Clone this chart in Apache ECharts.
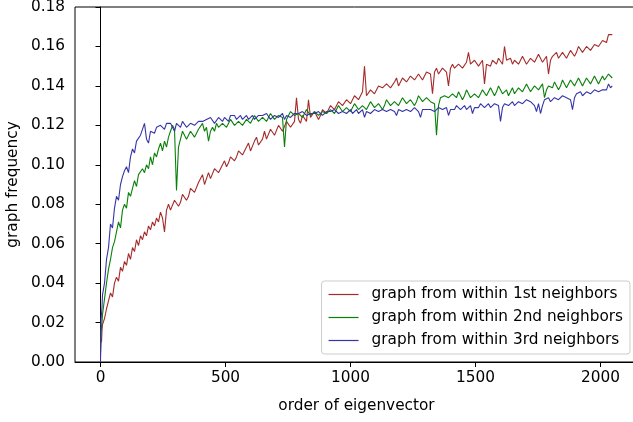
<!DOCTYPE html>
<html>
<head>
<meta charset="utf-8">
<title>graph frequency</title>
<script src="https://cdn.jsdelivr.net/npm/echarts@6.0.0/dist/echarts.min.js"></script>
<style>
  html, body { margin: 0; padding: 0; background: #fff; }
  #main { width: 633px; height: 422px; }
</style>
</head>
<body>
<div id="main"></div>
<script>
// order of eigenvector (sample positions)
var xs = [0, 1, 2, 4, 6, 8,
  16, 24, 32, 40, 48, 56, 64, 72, 80, 88, 96, 104, 112, 120, 128, 136, 144, 152, 160, 168, 176, 184, 192, 200, 208, 216, 224, 232, 240, 248, 256,
  264,
  272, 280, 288, 296, 304, 312, 320, 328, 336, 344, 352, 360, 368, 376, 384, 392,
  400, 408, 416, 424, 432, 440, 448, 456, 464, 472, 480, 488, 496, 504, 512, 520,
  528, 536, 544, 552, 560, 568, 576, 584, 592, 600, 608, 616, 624, 632, 640, 648,
  656, 664, 672, 680, 688, 696, 704, 712, 720, 728, 736, 744, 752, 760, 768, 776,
  784, 792, 800, 808, 816, 824, 832, 840, 848, 856, 864, 872, 880, 888, 896, 904,
  912, 920, 928, 936, 944, 952, 960, 968, 976, 984, 992, 1000, 1008, 1016, 1024, 1032,
  1040, 1048, 1056, 1064, 1072, 1080, 1088, 1096, 1104, 1112, 1120, 1128, 1136, 1144, 1152, 1160,
  1168, 1176, 1184, 1192, 1200, 1208, 1216, 1224, 1232, 1240, 1248, 1256, 1264, 1272, 1280, 1288,
  1296, 1304, 1312, 1320, 1328, 1336, 1344, 1352, 1360, 1368, 1376, 1384, 1392, 1400, 1408, 1416,
  1424, 1432, 1440, 1448, 1456, 1464, 1472, 1480, 1488, 1496, 1504, 1512, 1520, 1528, 1536, 1544,
  1552, 1560, 1568, 1576, 1584, 1592, 1600, 1608, 1616, 1624, 1632, 1640, 1648, 1656, 1664, 1672,
  1680, 1688, 1696, 1704, 1712, 1720, 1728, 1736, 1744, 1752, 1760, 1768, 1776, 1784, 1792, 1800,
  1808, 1816, 1824, 1832, 1840, 1848, 1856, 1864, 1872, 1880, 1888, 1896, 1904, 1912, 1920, 1928,
  1936, 1944, 1952, 1960, 1968, 1976, 1984, 1992, 2000, 2008, 2016, 2024, 2032, 2040,
  2047];

// graph from within 1st neighbors
var first = [0.003, 0.008, 0.012, 0.010, 0.016, 0.019,
  0.022, 0.027, 0.031, 0.035, 0.033, 0.040, 0.043, 0.041, 0.048, 0.046, 0.051, 0.049, 0.055, 0.052, 0.058, 0.056, 0.062, 0.059, 0.064, 0.062, 0.066, 0.064, 0.069, 0.067, 0.071, 0.069, 0.073, 0.071, 0.076, 0.073, 0.066,
  0.077,
  0.080, 0.077, 0.078, 0.082, 0.083, 0.079, 0.081, 0.085, 0.086, 0.082, 0.084, 0.088, 0.089, 0.086, 0.087, 0.091,
  0.092, 0.095, 0.090, 0.093, 0.096, 0.093, 0.094, 0.098, 0.099, 0.096, 0.097, 0.100, 0.102, 0.099, 0.101, 0.104,
  0.105, 0.102, 0.104, 0.107, 0.108, 0.105, 0.106, 0.109, 0.111, 0.107, 0.108, 0.112, 0.114, 0.110, 0.111, 0.113,
  0.117, 0.113, 0.114, 0.118, 0.119, 0.115, 0.116, 0.120, 0.121, 0.117, 0.118, 0.122, 0.123, 0.119, 0.120, 0.122,
  0.134, 0.123, 0.121, 0.125, 0.124, 0.122, 0.133, 0.124, 0.123, 0.127, 0.126, 0.123, 0.125, 0.128, 0.129, 0.126,
  0.127, 0.130, 0.131, 0.128, 0.129, 0.132, 0.133, 0.130, 0.130, 0.133, 0.134, 0.131, 0.132, 0.135, 0.136, 0.133,
  0.134, 0.137, 0.150, 0.135, 0.136, 0.138, 0.139, 0.136, 0.137, 0.140, 0.141, 0.139, 0.138, 0.141, 0.142, 0.139,
  0.140, 0.142, 0.144, 0.140, 0.141, 0.144, 0.145, 0.142, 0.142, 0.145, 0.146, 0.143, 0.143, 0.146, 0.147, 0.143,
  0.144, 0.147, 0.148, 0.146, 0.136, 0.147, 0.149, 0.146, 0.146, 0.149, 0.150, 0.147, 0.140, 0.149, 0.151, 0.149,
  0.148, 0.151, 0.152, 0.149, 0.150, 0.152, 0.157, 0.151, 0.151, 0.153, 0.153, 0.150, 0.151, 0.153, 0.141, 0.151,
  0.152, 0.150, 0.153, 0.152, 0.151, 0.154, 0.153, 0.151, 0.160, 0.153, 0.152, 0.154, 0.151, 0.153, 0.154, 0.151,
  0.152, 0.155, 0.154, 0.151, 0.152, 0.154, 0.155, 0.152, 0.153, 0.156, 0.155, 0.152, 0.153, 0.155, 0.146, 0.153,
  0.155, 0.154, 0.157, 0.154, 0.155, 0.157, 0.157, 0.154, 0.156, 0.158, 0.158, 0.155, 0.157, 0.160, 0.159, 0.157,
  0.158, 0.160, 0.161, 0.158, 0.159, 0.161, 0.162, 0.160, 0.161, 0.163, 0.164, 0.162, 0.166, 0.165,
  0.166];

// graph from within 2nd neighbors
var second = [0.005, 0.010, 0.015, 0.014, 0.020, 0.024,
  0.032, 0.040, 0.047, 0.052, 0.058, 0.061, 0.066, 0.071, 0.068, 0.077, 0.080, 0.078, 0.086, 0.084, 0.088, 0.092, 0.089, 0.095, 0.094, 0.098, 0.096, 0.100, 0.098, 0.104, 0.100, 0.106, 0.104, 0.108, 0.111, 0.107, 0.112,
  0.109,
  0.114, 0.117, 0.120, 0.118, 0.087, 0.109, 0.113, 0.117, 0.116, 0.113, 0.112, 0.117, 0.118, 0.114, 0.115, 0.118,
  0.119, 0.121, 0.117, 0.119, 0.112, 0.117, 0.119, 0.117, 0.121, 0.119, 0.118, 0.121, 0.122, 0.119, 0.120, 0.123,
  0.122, 0.120, 0.119, 0.122, 0.123, 0.120, 0.121, 0.123, 0.124, 0.121, 0.122, 0.125, 0.124, 0.122, 0.123, 0.124,
  0.125, 0.122, 0.123, 0.126, 0.125, 0.123, 0.124, 0.125, 0.126, 0.124, 0.109, 0.123, 0.125, 0.127, 0.126, 0.125,
  0.124, 0.126, 0.127, 0.124, 0.125, 0.128, 0.127, 0.125, 0.126, 0.127, 0.128, 0.125, 0.126, 0.127, 0.128, 0.126,
  0.127, 0.128, 0.129, 0.126, 0.127, 0.130, 0.129, 0.127, 0.128, 0.129, 0.130, 0.127, 0.128, 0.131, 0.130, 0.128,
  0.129, 0.130, 0.131, 0.128, 0.129, 0.132, 0.131, 0.129, 0.130, 0.131, 0.132, 0.128, 0.130, 0.133, 0.132, 0.130,
  0.131, 0.132, 0.133, 0.130, 0.131, 0.134, 0.133, 0.131, 0.132, 0.133, 0.134, 0.130, 0.132, 0.135, 0.134, 0.132,
  0.133, 0.134, 0.135, 0.132, 0.133, 0.131, 0.115, 0.130, 0.134, 0.133, 0.135, 0.136, 0.134, 0.133, 0.136, 0.135,
  0.134, 0.137, 0.136, 0.133, 0.135, 0.138, 0.137, 0.134, 0.135, 0.136, 0.137, 0.134, 0.136, 0.138, 0.138, 0.135,
  0.136, 0.139, 0.138, 0.135, 0.137, 0.140, 0.139, 0.136, 0.137, 0.138, 0.135, 0.137, 0.139, 0.136, 0.137, 0.139,
  0.140, 0.137, 0.138, 0.141, 0.140, 0.137, 0.138, 0.140, 0.141, 0.138, 0.139, 0.141, 0.134, 0.138, 0.140, 0.141,
  0.139, 0.142, 0.141, 0.138, 0.140, 0.143, 0.142, 0.139, 0.140, 0.143, 0.142, 0.140, 0.141, 0.144, 0.143, 0.140,
  0.141, 0.144, 0.143, 0.141, 0.142, 0.145, 0.144, 0.141, 0.142, 0.145, 0.143, 0.144, 0.146, 0.145,
  0.144];

// graph from within 3rd neighbors
var third = [0.000, 0.012, 0.021, 0.020, 0.028, 0.034,
  0.040, 0.052, 0.058, 0.070, 0.068, 0.078, 0.084, 0.082, 0.090, 0.094, 0.097, 0.099, 0.096, 0.104, 0.108, 0.106, 0.112, 0.113, 0.115, 0.116, 0.121, 0.113, 0.111, 0.117, 0.118, 0.116, 0.119, 0.118, 0.120, 0.119, 0.118,
  0.121,
  0.120, 0.121, 0.119, 0.117, 0.121, 0.120, 0.119, 0.122, 0.121, 0.119, 0.120, 0.121, 0.122, 0.120, 0.121, 0.122,
  0.123, 0.122, 0.121, 0.123, 0.122, 0.124, 0.124, 0.121, 0.122, 0.124, 0.123, 0.122, 0.124, 0.123, 0.122, 0.125,
  0.124, 0.125, 0.123, 0.124, 0.125, 0.123, 0.124, 0.125, 0.123, 0.124, 0.125, 0.123, 0.124, 0.125, 0.126, 0.125,
  0.124, 0.126, 0.125, 0.123, 0.124, 0.125, 0.126, 0.124, 0.125, 0.126, 0.123, 0.125, 0.126, 0.124, 0.125, 0.126,
  0.127, 0.126, 0.125, 0.127, 0.126, 0.125, 0.124, 0.126, 0.127, 0.126, 0.125, 0.127, 0.127, 0.125, 0.126, 0.127,
  0.128, 0.127, 0.126, 0.128, 0.127, 0.126, 0.125, 0.127, 0.128, 0.126, 0.127, 0.128, 0.126, 0.127, 0.128, 0.126,
  0.127, 0.128, 0.124, 0.127, 0.128, 0.126, 0.127, 0.128, 0.128, 0.127, 0.126, 0.128, 0.129, 0.127, 0.127, 0.128,
  0.128, 0.127, 0.125, 0.128, 0.128, 0.127, 0.126, 0.128, 0.129, 0.127, 0.127, 0.129, 0.128, 0.127, 0.124, 0.128,
  0.129, 0.128, 0.127, 0.128, 0.129, 0.127, 0.128, 0.129, 0.130, 0.128, 0.128, 0.129, 0.125, 0.128, 0.129, 0.128,
  0.130, 0.129, 0.128, 0.129, 0.130, 0.128, 0.129, 0.130, 0.126, 0.129, 0.130, 0.129, 0.131, 0.130, 0.129, 0.130,
  0.131, 0.129, 0.130, 0.131, 0.131, 0.130, 0.122, 0.129, 0.131, 0.130, 0.130, 0.131, 0.132, 0.130, 0.131, 0.132,
  0.133, 0.131, 0.132, 0.133, 0.134, 0.132, 0.131, 0.130, 0.127, 0.131, 0.126, 0.130, 0.133, 0.132, 0.134, 0.132,
  0.133, 0.134, 0.135, 0.133, 0.134, 0.135, 0.136, 0.134, 0.135, 0.133, 0.128, 0.134, 0.136, 0.135, 0.137, 0.135,
  0.136, 0.137, 0.138, 0.136, 0.137, 0.138, 0.139, 0.137, 0.137, 0.138, 0.139, 0.138, 0.141, 0.139,
  0.140];

var xTicks = [0, 500, 1000, 1500, 2000];
var names = ['graph from within 1st neighbors', 'graph from within 2nd neighbors', 'graph from within 3rd neighbors'];
var colors = ['#a52a2a', '#0a800a', '#3535a8'];

function pairs(ys) {
  return xs.map(function (x, i) { return [x, ys[i]]; });
}

var myChart = echarts.init(document.getElementById('main'));
var font = 'DejaVu Sans';
var fs = 15.3;

myChart.setOption({
  animation: false,
  backgroundColor: '#fff',
  textStyle: { fontFamily: font },
  grid: {
    left: 75, top: 7, right: -5, bottom: 60,
    outerBoundsMode: 'none',
    show: true, borderColor: '#000', borderWidth: 1
  },
  legend: {
    data: names,
    orient: 'vertical',
    right: 3,
    top: 281,
    padding: [6, 7, 6, 7],
    icon: 'rect',
    itemWidth: 30,
    itemHeight: 1.2,
    itemGap: 8,
    backgroundColor: 'rgba(255,255,255,0.8)',
    borderColor: '#cccccc',
    borderWidth: 1,
    borderRadius: 3,
    textStyle: { fontFamily: font, fontSize: fs, lineHeight: 15, color: '#000', padding: [0, 0, 0, 8] }
  },
  xAxis: {
    type: 'value',
    min: -102,
    max: 2150,
    name: 'order of eigenvector',
    nameLocation: 'middle',
    nameGap: 37,
    nameTextStyle: { fontFamily: font, fontSize: fs, color: '#000' },
    axisLine: { lineStyle: { color: '#000', width: 1 } },
    axisTick: { show: true, length: 5, lineStyle: { color: '#000' }, customValues: xTicks },
    axisLabel: {
      fontFamily: font, fontSize: fs, color: '#000', margin: 9, customValues: xTicks,
      formatter: function (v) { return String(v); }
    },
    splitLine: { show: false }
  },
  yAxis: {
    type: 'value',
    min: 0,
    max: 0.18,
    interval: 0.02,
    name: 'graph frequency',
    nameLocation: 'middle',
    nameGap: 51,
    nameTextStyle: { fontFamily: font, fontSize: fs, color: '#000' },
    axisLine: { show: true, lineStyle: { color: '#000', width: 1 } },
    axisTick: { show: true, length: 5, lineStyle: { color: '#000' } },
    axisLabel: {
      fontFamily: font, fontSize: fs, color: '#000', margin: 10,
      formatter: function (v) { return v.toFixed(2); }
    },
    splitLine: { show: false }
  },
  series: [
    { name: names[0], type: 'line', symbol: 'none', data: pairs(first),
      lineStyle: { width: 1.1, color: colors[0] }, itemStyle: { color: colors[0] } },
    { name: names[1], type: 'line', symbol: 'none', data: pairs(second),
      lineStyle: { width: 1.1, color: colors[1] }, itemStyle: { color: colors[1] } },
    { name: names[2], type: 'line', symbol: 'none', data: pairs(third),
      lineStyle: { width: 1.1, color: colors[2] }, itemStyle: { color: colors[2] } }
  ]
});
</script>
</body>
</html>
